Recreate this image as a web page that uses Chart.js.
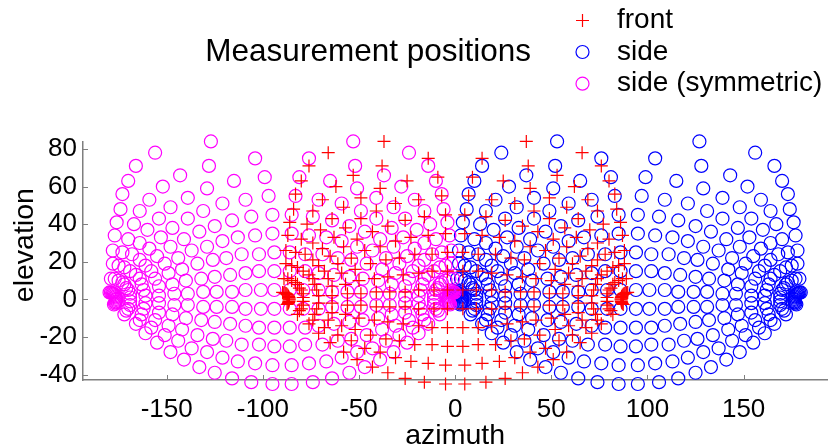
<!DOCTYPE html>
<html>
<head>
<meta charset="utf-8">
<script src="https://cdn.jsdelivr.net/npm/chart.js@4.4.1/dist/chart.umd.min.js"></script>
<style>
  html, body { margin: 0; padding: 0; background: #fff; }
  #wrap { width: 835px; height: 447px; }
</style>
</head>
<body>
<div id="wrap"><canvas id="chart" width="835" height="447"></canvas></div>
<script>
const frontPositions = [
  [5,-45],[5,-35],[4,-25],[4,-15],[4,-5],[4,5],[4,15],[4,25],[5,35],[5,45],[7,55],[9,65],[14,75],[37,84],
  [16,-44],[14,-34],[12,-24],[12,-15],[11,-5],[11,5],[12,15],[12,24],[14,34],[16,44],[19,53],[25,63],[38,71],[66,78],
  [26,-42],[23,-33],[21,-24],[19,-14],[19,-5],[19,5],[19,14],[21,24],[23,33],[26,42],[31,51],[39,59],[53,66],[76,71],
  [35,-39],[31,-31],[29,-22],[27,-13],[26,-4],[26,4],[27,13],[29,22],[31,31],[35,39],[41,47],[49,54],[62,60],[80,63],
  [43,-36],[39,-28],[36,-21],[35,-12],[34,-4],[34,4],[35,12],[36,21],[39,28],[43,36],[49,43],[58,49],[69,53],[83,56],
  [51,-32],[47,-26],[44,-19],[42,-11],[41,-4],[41,4],[42,11],[44,19],[47,26],[51,32],[57,38],[64,43],[74,47],[84,48],
  [58,-28],[54,-22],[52,-16],[50,-10],[49,-3],[49,3],[50,10],[52,16],[54,22],[58,28],[63,33],[70,37],[77,40],[86,41],
  [65,-23],[61,-19],[59,-14],[57,-8],[56,-3],[56,3],[57,8],[59,14],[61,19],[65,23],[69,27],[74,30],[80,32],[87,34],
  [71,-18],[68,-15],[66,-11],[64,-7],[64,-2],[64,2],[64,7],[66,11],[68,15],[71,18],[74,21],[78,24],[83,25],[88,26],
  [76,-13],[74,-11],[73,-8],[72,-5],[71,-2],[71,2],[72,5],[73,8],[74,11],[76,13],[79,15],[82,17],[85,18],[88,19],
  [82,-8],[81,-6],[80,-5],[79,-3],[79,-1],[79,1],[79,3],[80,5],[81,6],[82,8],[83,9],[85,10],[87,11],[89,11],
  [87.4,-2.7],[86.9,-2.2],[86.6,-1.6],[86.4,-1],[86.3,-0.3],[86.3,0.3],[86.4,1],[86.6,1.6],[86.9,2.2],[87.4,2.7],[87.9,3.1],[88.4,3.4],[89,3.6],[89.7,3.7],
  [-5,-45],[-5,-35],[-4,-25],[-4,-15],[-4,-5],[-4,5],[-4,15],[-4,25],[-5,35],[-5,45],[-7,55],[-9,65],[-14,75],[-37,84],
  [-16,-44],[-14,-34],[-12,-24],[-12,-15],[-11,-5],[-11,5],[-12,15],[-12,24],[-14,34],[-16,44],[-19,53],[-25,63],[-38,71],[-66,78],
  [-26,-42],[-23,-33],[-21,-24],[-19,-14],[-19,-5],[-19,5],[-19,14],[-21,24],[-23,33],[-26,42],[-31,51],[-39,59],[-53,66],[-76,71],
  [-35,-39],[-31,-31],[-29,-22],[-27,-13],[-26,-4],[-26,4],[-27,13],[-29,22],[-31,31],[-35,39],[-41,47],[-49,54],[-62,60],[-80,63],
  [-43,-36],[-39,-28],[-36,-21],[-35,-12],[-34,-4],[-34,4],[-35,12],[-36,21],[-39,28],[-43,36],[-49,43],[-58,49],[-69,53],[-83,56],
  [-51,-32],[-47,-26],[-44,-19],[-42,-11],[-41,-4],[-41,4],[-42,11],[-44,19],[-47,26],[-51,32],[-57,38],[-64,43],[-74,47],[-84,48],
  [-58,-28],[-54,-22],[-52,-16],[-50,-10],[-49,-3],[-49,3],[-50,10],[-52,16],[-54,22],[-58,28],[-63,33],[-70,37],[-77,40],[-86,41],
  [-65,-23],[-61,-19],[-59,-14],[-57,-8],[-56,-3],[-56,3],[-57,8],[-59,14],[-61,19],[-65,23],[-69,27],[-74,30],[-80,32],[-87,34],
  [-71,-18],[-68,-15],[-66,-11],[-64,-7],[-64,-2],[-64,2],[-64,7],[-66,11],[-68,15],[-71,18],[-74,21],[-78,24],[-83,25],[-88,26],
  [-76,-13],[-74,-11],[-73,-8],[-72,-5],[-71,-2],[-71,2],[-72,5],[-73,8],[-74,11],[-76,13],[-79,15],[-82,17],[-85,18],[-88,19],
  [-82,-8],[-81,-6],[-80,-5],[-79,-3],[-79,-1],[-79,1],[-79,3],[-80,5],[-81,6],[-82,8],[-83,9],[-85,10],[-87,11],[-89,11],
  [-87.4,-2.7],[-86.9,-2.2],[-86.6,-1.6],[-86.4,-1],[-86.3,-0.3],[-86.3,0.3],[-86.4,1],[-86.6,1.6],[-86.9,2.2],[-87.4,2.7],[-87.9,3.1],[-88.4,3.4],[-89,3.6],[-89.7,3.7]
];

const sidePositions = [
  [85,-45],[85,-35],[86,-25],[86,-15],[86,-5],[86,5],[86,15],[86,25],[85,35],[85,45],[83,55],[81,65],[76,75],[53,84],
  [95,-45],[95,-35],[94,-25],[94,-15],[94,-5],[94,5],[94,15],[94,25],[95,35],[95,45],[97,55],[99,65],[104,75],[127,84],
  [74,-44],[76,-34],[78,-24],[78,-15],[79,-5],[79,5],[78,15],[78,24],[76,34],[74,44],[71,53],[65,63],[52,71],[24,78],
  [106,-44],[104,-34],[102,-24],[102,-15],[101,-5],[101,5],[102,15],[102,24],[104,34],[106,44],[109,53],[115,63],[128,71],[156,78],
  [64,-42],[67,-33],[69,-24],[71,-14],[71,-5],[71,5],[71,14],[69,24],[67,33],[64,42],[59,51],[51,59],[37,66],[14,71],
  [116,-42],[113,-33],[111,-24],[109,-14],[109,-5],[109,5],[109,14],[111,24],[113,33],[116,42],[121,51],[129,59],[143,66],[166,71],
  [55,-39],[59,-31],[61,-22],[63,-13],[64,-4],[64,4],[63,13],[61,22],[59,31],[55,39],[49,47],[41,54],[28,60],[10,63],
  [125,-39],[121,-31],[119,-22],[117,-13],[116,-4],[116,4],[117,13],[119,22],[121,31],[125,39],[131,47],[139,54],[152,60],[170,63],
  [47,-36],[51,-28],[54,-21],[55,-12],[56,-4],[56,4],[55,12],[54,21],[51,28],[47,36],[41,43],[32,49],[21,53],[7,56],
  [133,-36],[129,-28],[126,-21],[125,-12],[124,-4],[124,4],[125,12],[126,21],[129,28],[133,36],[139,43],[148,49],[159,53],[173,56],
  [39,-32],[43,-26],[46,-19],[48,-11],[49,-4],[49,4],[48,11],[46,19],[43,26],[39,32],[33,38],[26,43],[16,47],[6,48],
  [141,-32],[137,-26],[134,-19],[132,-11],[131,-4],[131,4],[132,11],[134,19],[137,26],[141,32],[147,38],[154,43],[164,47],[174,48],
  [32,-28],[36,-22],[38,-16],[40,-10],[41,-3],[41,3],[40,10],[38,16],[36,22],[32,28],[27,33],[20,37],[13,40],[4,41],
  [148,-28],[144,-22],[142,-16],[140,-10],[139,-3],[139,3],[140,10],[142,16],[144,22],[148,28],[153,33],[160,37],[167,40],[176,41],
  [25,-23],[29,-19],[31,-14],[33,-8],[34,-3],[34,3],[33,8],[31,14],[29,19],[25,23],[21,27],[16,30],[10,32],[3,34],
  [155,-23],[151,-19],[149,-14],[147,-8],[146,-3],[146,3],[147,8],[149,14],[151,19],[155,23],[159,27],[164,30],[170,32],[177,34],
  [19,-18],[22,-15],[24,-11],[26,-7],[26,-2],[26,2],[26,7],[24,11],[22,15],[19,18],[16,21],[12,24],[7,25],[2,26],
  [161,-18],[158,-15],[156,-11],[154,-7],[154,-2],[154,2],[154,7],[156,11],[158,15],[161,18],[164,21],[168,24],[173,25],[178,26],
  [14,-13],[16,-11],[17,-8],[18,-5],[19,-2],[19,2],[18,5],[17,8],[16,11],[14,13],[11,15],[8,17],[5,18],[2,19],
  [166,-13],[164,-11],[163,-8],[162,-5],[161,-2],[161,2],[162,5],[163,8],[164,11],[166,13],[169,15],[172,17],[175,18],[178,19],
  [8,-8],[9,-6],[10,-5],[11,-3],[11,-1],[11,1],[11,3],[10,5],[9,6],[8,8],[7,9],[5,10],[3,11],[1,11],
  [172,-8],[171,-6],[170,-5],[169,-3],[169,-1],[169,1],[169,3],[170,5],[171,6],[172,8],[173,9],[175,10],[177,11],[179,11],
  [2.6,-2.7],[3.1,-2.2],[3.4,-1.6],[3.6,-1],[3.7,-0.3],[3.7,0.3],[3.6,1],[3.4,1.6],[3.1,2.2],[2.6,2.7],[2.1,3.1],[1.6,3.4],[1,3.6],[0.3,3.7],
  [177.4,-2.7],[176.9,-2.2],[176.6,-1.6],[176.4,-1],[176.3,-0.3],[176.3,0.3],[176.4,1],[176.6,1.6],[176.9,2.2],[177.4,2.7],[177.9,3.1],[178.4,3.4],[179,3.6],[179.7,3.7]
];

const symmetricPositions = [
  [-85,-45],[-85,-35],[-86,-25],[-86,-15],[-86,-5],[-86,5],[-86,15],[-86,25],[-85,35],[-85,45],[-83,55],[-81,65],[-76,75],[-53,84],
  [-95,-45],[-95,-35],[-94,-25],[-94,-15],[-94,-5],[-94,5],[-94,15],[-94,25],[-95,35],[-95,45],[-97,55],[-99,65],[-104,75],[-127,84],
  [-74,-44],[-76,-34],[-78,-24],[-78,-15],[-79,-5],[-79,5],[-78,15],[-78,24],[-76,34],[-74,44],[-71,53],[-65,63],[-52,71],[-24,78],
  [-106,-44],[-104,-34],[-102,-24],[-102,-15],[-101,-5],[-101,5],[-102,15],[-102,24],[-104,34],[-106,44],[-109,53],[-115,63],[-128,71],[-156,78],
  [-64,-42],[-67,-33],[-69,-24],[-71,-14],[-71,-5],[-71,5],[-71,14],[-69,24],[-67,33],[-64,42],[-59,51],[-51,59],[-37,66],[-14,71],
  [-116,-42],[-113,-33],[-111,-24],[-109,-14],[-109,-5],[-109,5],[-109,14],[-111,24],[-113,33],[-116,42],[-121,51],[-129,59],[-143,66],[-166,71],
  [-55,-39],[-59,-31],[-61,-22],[-63,-13],[-64,-4],[-64,4],[-63,13],[-61,22],[-59,31],[-55,39],[-49,47],[-41,54],[-28,60],[-10,63],
  [-125,-39],[-121,-31],[-119,-22],[-117,-13],[-116,-4],[-116,4],[-117,13],[-119,22],[-121,31],[-125,39],[-131,47],[-139,54],[-152,60],[-170,63],
  [-47,-36],[-51,-28],[-54,-21],[-55,-12],[-56,-4],[-56,4],[-55,12],[-54,21],[-51,28],[-47,36],[-41,43],[-32,49],[-21,53],[-7,56],
  [-133,-36],[-129,-28],[-126,-21],[-125,-12],[-124,-4],[-124,4],[-125,12],[-126,21],[-129,28],[-133,36],[-139,43],[-148,49],[-159,53],[-173,56],
  [-39,-32],[-43,-26],[-46,-19],[-48,-11],[-49,-4],[-49,4],[-48,11],[-46,19],[-43,26],[-39,32],[-33,38],[-26,43],[-16,47],[-6,48],
  [-141,-32],[-137,-26],[-134,-19],[-132,-11],[-131,-4],[-131,4],[-132,11],[-134,19],[-137,26],[-141,32],[-147,38],[-154,43],[-164,47],[-174,48],
  [-32,-28],[-36,-22],[-38,-16],[-40,-10],[-41,-3],[-41,3],[-40,10],[-38,16],[-36,22],[-32,28],[-27,33],[-20,37],[-13,40],[-4,41],
  [-148,-28],[-144,-22],[-142,-16],[-140,-10],[-139,-3],[-139,3],[-140,10],[-142,16],[-144,22],[-148,28],[-153,33],[-160,37],[-167,40],[-176,41],
  [-25,-23],[-29,-19],[-31,-14],[-33,-8],[-34,-3],[-34,3],[-33,8],[-31,14],[-29,19],[-25,23],[-21,27],[-16,30],[-10,32],[-3,34],
  [-155,-23],[-151,-19],[-149,-14],[-147,-8],[-146,-3],[-146,3],[-147,8],[-149,14],[-151,19],[-155,23],[-159,27],[-164,30],[-170,32],[-177,34],
  [-19,-18],[-22,-15],[-24,-11],[-26,-7],[-26,-2],[-26,2],[-26,7],[-24,11],[-22,15],[-19,18],[-16,21],[-12,24],[-7,25],[-2,26],
  [-161,-18],[-158,-15],[-156,-11],[-154,-7],[-154,-2],[-154,2],[-154,7],[-156,11],[-158,15],[-161,18],[-164,21],[-168,24],[-173,25],[-178,26],
  [-14,-13],[-16,-11],[-17,-8],[-18,-5],[-19,-2],[-19,2],[-18,5],[-17,8],[-16,11],[-14,13],[-11,15],[-8,17],[-5,18],[-2,19],
  [-166,-13],[-164,-11],[-163,-8],[-162,-5],[-161,-2],[-161,2],[-162,5],[-163,8],[-164,11],[-166,13],[-169,15],[-172,17],[-175,18],[-178,19],
  [-8,-8],[-9,-6],[-10,-5],[-11,-3],[-11,-1],[-11,1],[-11,3],[-10,5],[-9,6],[-8,8],[-7,9],[-5,10],[-3,11],[-1,11],
  [-172,-8],[-171,-6],[-170,-5],[-169,-3],[-169,-1],[-169,1],[-169,3],[-170,5],[-171,6],[-172,8],[-173,9],[-175,10],[-177,11],[-179,11],
  [-2.6,-2.7],[-3.1,-2.2],[-3.4,-1.6],[-3.6,-1],[-3.7,-0.3],[-3.7,0.3],[-3.6,1],[-3.4,1.6],[-3.1,2.2],[-2.6,2.7],[-2.1,3.1],[-1.6,3.4],[-1,3.6],[-0.3,3.7],
  [-177.4,-2.7],[-176.9,-2.2],[-176.6,-1.6],[-176.4,-1],[-176.3,-0.3],[-176.3,0.3],[-176.4,1],[-176.6,1.6],[-176.9,2.2],[-177.4,2.7],[-177.9,3.1],[-178.4,3.4],[-179,3.6],[-179.7,3.7]
];

const seriesNames = ["front", "side", "side (symmetric)"];
const seriesColors = ["#ff0000", "#0000ff", "#ff00ff"];
const xTicks = [-150, -100, -50, 0, 50, 100, 150];
const yTicks = [-40, -20, 0, 20, 40, 60, 80];

const FONT = "'Liberation Sans', Arial, Helvetica, sans-serif";
const AXIS_GRAY = "#7f7f7f";
const MARKER_W = 1.2;

const toPoints = (arr) => arr.map(([x, y]) => ({ x, y }));

// inward tick marks like the original
const innerTicks = {
  id: "innerTicks",
  afterDraw(chart) {
    const { ctx, chartArea, scales } = chart;
    ctx.save();
    ctx.strokeStyle = AXIS_GRAY;
    ctx.lineWidth = 1;
    ctx.beginPath();
    xTicks.forEach((v) => {
      const px = Math.round(scales.x.getPixelForValue(v)) + 0.5;
      ctx.moveTo(px, chartArea.bottom);
      ctx.lineTo(px, chartArea.bottom - 5);
    });
    yTicks.forEach((v) => {
      const py = Math.round(scales.y.getPixelForValue(v)) + 0.5;
      ctx.moveTo(chartArea.left, py);
      ctx.lineTo(chartArea.left + 5, py);
    });
    ctx.stroke();
    ctx.restore();
  },
};

// title on the left, legend stacked on the right
const titleLegend = {
  id: "titleLegend",
  afterDraw(chart) {
    const ctx = chart.ctx;
    ctx.save();
    ctx.fillStyle = "#000";
    ctx.textBaseline = "middle";
    ctx.font = "31.5px " + FONT;
    ctx.textAlign = "right";
    ctx.fillText("Measurement positions", 531, 52);

    ctx.font = "28px " + FONT;
    ctx.textAlign = "left";
    const rows = [20.5, 52, 83.7];
    seriesNames.forEach((name, i) => {
      const y = rows[i];
      const mx = 582.5;
      ctx.strokeStyle = seriesColors[i];
      ctx.lineWidth = MARKER_W;
      ctx.beginPath();
      if (i === 0) {
        ctx.moveTo(mx - 6.5, y);
        ctx.lineTo(mx + 6.5, y);
        ctx.moveTo(mx, y - 6.5);
        ctx.lineTo(mx, y + 6.5);
      } else {
        ctx.arc(mx, y, 6.5, 0, Math.PI * 2);
      }
      ctx.stroke();
      ctx.fillText(name, 617, y);
    });
    ctx.restore();
  },
};

const ctx = document.getElementById("chart").getContext("2d");
new Chart(ctx, {
  type: "scatter",
  data: {
    datasets: [
      {
        label: seriesNames[0],
        data: toPoints(frontPositions),
        pointStyle: "cross",
        borderColor: seriesColors[0],
        backgroundColor: seriesColors[0],
        order: 0,
      },
      {
        label: seriesNames[1],
        data: toPoints(sidePositions),
        pointStyle: "circle",
        borderColor: seriesColors[1],
        backgroundColor: "rgba(0,0,0,0)",
        order: 2,
      },
      {
        label: seriesNames[2],
        data: toPoints(symmetricPositions),
        pointStyle: "circle",
        borderColor: seriesColors[2],
        backgroundColor: "rgba(0,0,0,0)",
        order: 1,
      },
    ],
  },
  options: {
    responsive: false,
    devicePixelRatio: 1,
    animation: false,
    events: [],
    clip: false,
    layout: { padding: { top: 142, right: 2, left: 0, bottom: 0 } },
    elements: {
      point: { radius: 6.5, hoverRadius: 6.5, borderWidth: MARKER_W, hitRadius: 0 },
    },
    plugins: {
      legend: { display: false },
      tooltip: { enabled: false },
    },
    scales: {
      x: {
        type: "linear",
        min: -193.5,
        max: 193.5,
        afterBuildTicks: (axis) => {
          axis.ticks = xTicks.map((v) => ({ value: v }));
        },
        afterFit: (axis) => {
          axis.height = 67;
        },
        grid: { display: false, drawTicks: false },
        border: { display: true, color: AXIS_GRAY, width: 1.5 },
        ticks: {
          color: "#000",
          font: { family: FONT, size: 26 },
          padding: 14,
          maxRotation: 0,
          autoSkip: false,
        },
        title: {
          display: true,
          text: "azimuth",
          color: "#000",
          font: { family: FONT, size: 28.5, lineHeight: 1 },
          padding: { top: 0, bottom: -3 },
        },
      },
      y: {
        type: "linear",
        min: -42.86,
        max: 83.7,
        afterBuildTicks: (axis) => {
          axis.ticks = yTicks.map((v) => ({ value: v }));
        },
        afterFit: (axis) => {
          axis.width = 83;
        },
        grid: { display: false, drawTicks: false },
        border: { display: true, color: AXIS_GRAY, width: 1.5 },
        ticks: {
          color: "#000",
          font: { family: FONT, size: 26 },
          padding: 6,
          autoSkip: false,
        },
        title: {
          display: true,
          // leading spaces lift the label, it sits above the axis middle in the original
          text: "    elevation",
          color: "#000",
          font: { family: FONT, size: 28.5, lineHeight: 1.2 },
          padding: { top: 8, bottom: 0 },
        },
      },
    },
  },
  plugins: [innerTicks, titleLegend],
});
</script>
</body>
</html>
